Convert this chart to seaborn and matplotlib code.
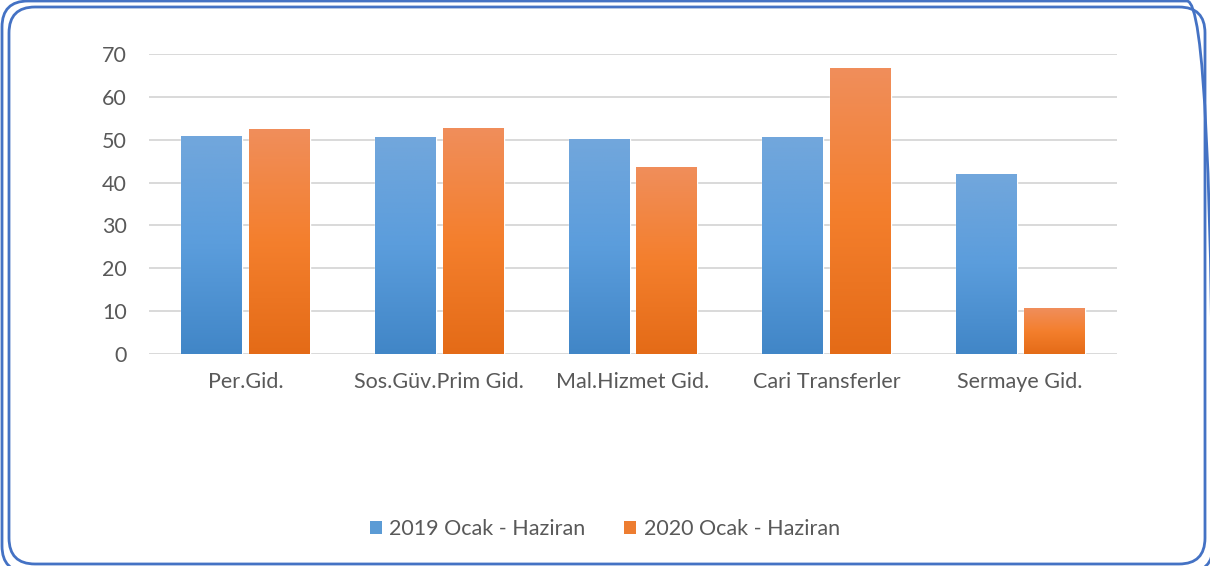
import numpy as np
import pandas as pd
import matplotlib.pyplot as plt
import seaborn as sns
from matplotlib.colors import LinearSegmentedColormap
from matplotlib.patches import FancyBboxPatch, Patch

sns.set_theme(style="white")
plt.rcParams['font.family'] = ['Lato', 'DejaVu Sans']

categories = ['Per.Gid.', 'Sos.Güv.Prim Gid.', 'Mal.Hizmet Gid.', 'Cari Transferler', 'Sermaye Gid.']
periods = ['2019 Ocak - Haziran', '2020 Ocak - Haziran']
values_2019 = [50.9, 50.6, 50.2, 50.6, 42.0]
values_2020 = [52.5, 52.7, 43.6, 66.7, 10.7]

df = pd.DataFrame({
    'kalem': categories * 2,
    'donem': [periods[0]] * 5 + [periods[1]] * 5,
    'deger': values_2019 + values_2020,
})

text_col = '#595959'
fs = 15.5
# top, middle, bottom colours of the Excel style gradient
grads = [('#72A7DC', '#5B9DDC', '#4186C7'),
         ('#F08E5B', '#F47F2D', '#E46B17')]
solid = ['#5B9BD5', '#ED7D31']

fig = plt.figure(figsize=(12.1, 5.66), dpi=100)

# background axes in pixel units for the double rounded frame
bg = fig.add_axes([0, 0, 1, 1])
bg.set_xlim(0, 1210)
bg.set_ylim(0, 566)
bg.axis('off')
for (x0, top, x1, bottom) in [(2, 1, 1213, 572), (9, 7, 1205, 564)]:
    bg.add_patch(FancyBboxPatch((x0, 566 - bottom), x1 - x0, bottom - top,
                                boxstyle='round,pad=0,rounding_size=26',
                                facecolor='none', edgecolor='#4472C4', linewidth=2))

ax = fig.add_axes([149 / 1210, 1 - 354 / 566, 968 / 1210, 300 / 566])

sns.barplot(data=df, x='kalem', y='deger', hue='donem', palette=solid,
            width=0.7, gap=0.1, legend=False, ax=ax, zorder=3)

ax.set_ylim(0, 70)
ax.set_yticks(range(0, 71, 10))
xlim = ax.get_xlim()

# gradient fill clipped to each bar
for container, (top, mid, bot) in zip(ax.containers, grads):
    cmap = LinearSegmentedColormap.from_list('g', [bot, mid, top])
    for bar in container:
        x0, w, h = bar.get_x(), bar.get_width(), bar.get_height()
        img = ax.imshow(np.linspace(0, 1, 256).reshape(-1, 1), cmap=cmap,
                        extent=[x0, x0 + w, 0, h], origin='lower',
                        aspect='auto', zorder=4)
        img.set_clip_path(bar)

ax.set_xlim(xlim)
ax.set_ylim(0, 70)
ax.patch.set_alpha(0)

ax.yaxis.grid(True, color='#D9D9D9', linewidth=1.4)
ax.set_axisbelow(True)
sns.despine(ax=ax, left=True, bottom=True)
ax.set(xlabel='', ylabel='')
ax.tick_params(axis='y', length=0, pad=16, labelsize=fs, labelcolor=text_col)
ax.tick_params(axis='x', length=0, pad=13, labelsize=fs, labelcolor=text_col)

handles = [Patch(facecolor=c, edgecolor='none') for c in solid]
fig.legend(handles, periods, loc='center', bbox_to_anchor=(0.5, 1 - 529 / 566),
           ncol=2, frameon=False, fontsize=fs, labelcolor=text_col,
           handlelength=0.55, handleheight=0.55, handletextpad=0.35,
           columnspacing=1.8)

fig.savefig('out.png', dpi=100)
